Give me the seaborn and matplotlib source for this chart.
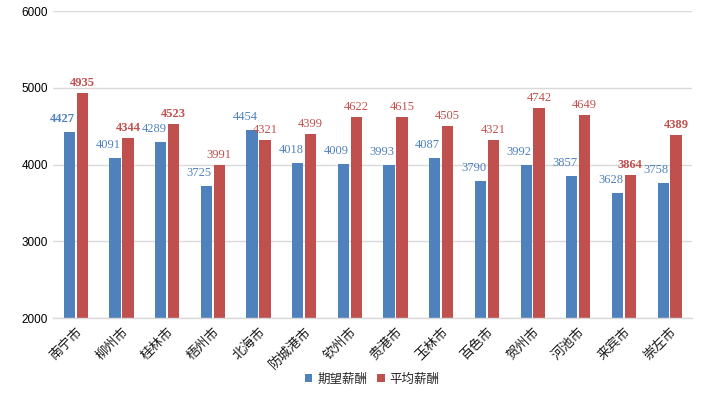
import matplotlib
matplotlib.use("Agg")
import matplotlib.pyplot as plt
import seaborn as sns
import pandas as pd

cities = ["南宁市", "柳州市", "桂林市", "梧州市", "北海市", "防城港市", "钦州市",
          "贵港市", "玉林市", "百色市", "贺州市", "河池市", "来宾市", "崇左市"]
expected = [4427, 4091, 4289, 3725, 4454, 4018, 4009, 3993, 4087, 3790, 3992, 3857, 3628, 3758]
average = [4935, 4344, 4523, 3991, 4321, 4399, 4622, 4615, 4505, 4321, 4742, 4649, 3864, 4389]
series_names = ["期望薪酬", "平均薪酬"]
y_ticks = [2000, 3000, 4000, 5000, 6000]

bold_expected = [True] + [False] * 13
bold_average = [True, True, True, False, False, False, False, False, False, False, False, False, True, True]

sns.set_theme(style="white")
plt.rcParams["font.family"] = ["Noto Sans CJK SC", "DejaVu Sans"]

colors = ["#4F81BD", "#C0504D"]

df = pd.DataFrame({
    "city": cities * 2,
    "series": [series_names[0]] * len(cities) + [series_names[1]] * len(cities),
    "value": expected + average,
})

fig = plt.figure(figsize=(7.16, 3.98), dpi=100)
ax = fig.add_axes([0.074, 0.201, 0.893, 0.771])

sns.barplot(data=df, x="city", y="value", hue="series", order=cities,
            hue_order=series_names, palette=colors, width=0.56, gap=0.12,
            saturation=1, linewidth=0, ax=ax, legend=True)

ax.set_ylim(2000, 6000)
ax.set_yticks(y_ticks)
ax.set_xlim(-0.5, len(cities) - 0.5)
ax.yaxis.grid(True, color="#D9D9D9", linewidth=1)
ax.set_axisbelow(True)
for s in ["top", "right", "left"]:
    ax.spines[s].set_visible(False)
ax.spines["bottom"].set_color("#D9D9D9")
ax.spines["bottom"].set_linewidth(1)
ax.tick_params(axis="both", length=0)
ax.set_xlabel("")
ax.set_ylabel("")
for lab in ax.get_yticklabels():
    lab.set_fontsize(8.5)
    lab.set_color("#000000")
    lab.set_family(["Liberation Sans"])
ax.set_xticks(range(len(cities)))
ax.set_xticklabels(cities, rotation=45, ha="right", va="top",
                   rotation_mode="anchor", fontsize=9.5, color="#1A1A1A")
ax.tick_params(axis="x", pad=5)

label_sets = [(expected, bold_expected, -7, 7), (average, bold_average, 0, 4)]
for ci, (cont, (vals, bolds, dx, dy)) in enumerate(zip(ax.containers, label_sets)):
    for bar, v, b in zip(cont, vals, bolds):
        xc = bar.get_x() + bar.get_width() / 2
        ax.annotate(str(v), (xc, v), xytext=(dx, dy), textcoords="offset pixels",
                    ha="center", va="bottom", fontsize=9,
                    family=["Liberation Serif"], color=colors[ci],
                    fontweight="bold" if b else "normal")

leg = ax.get_legend()
if leg is not None:
    leg.remove()
handles, labels = ax.get_legend_handles_labels()
fig.legend(handles[:2], labels[:2], loc="center", bbox_to_anchor=(0.52, 0.048),
           ncol=2, frameon=False, fontsize=9, handlelength=0.6, handleheight=0.6,
           handletextpad=0.4, columnspacing=0.8)

fig.savefig("out.png", dpi=100)
